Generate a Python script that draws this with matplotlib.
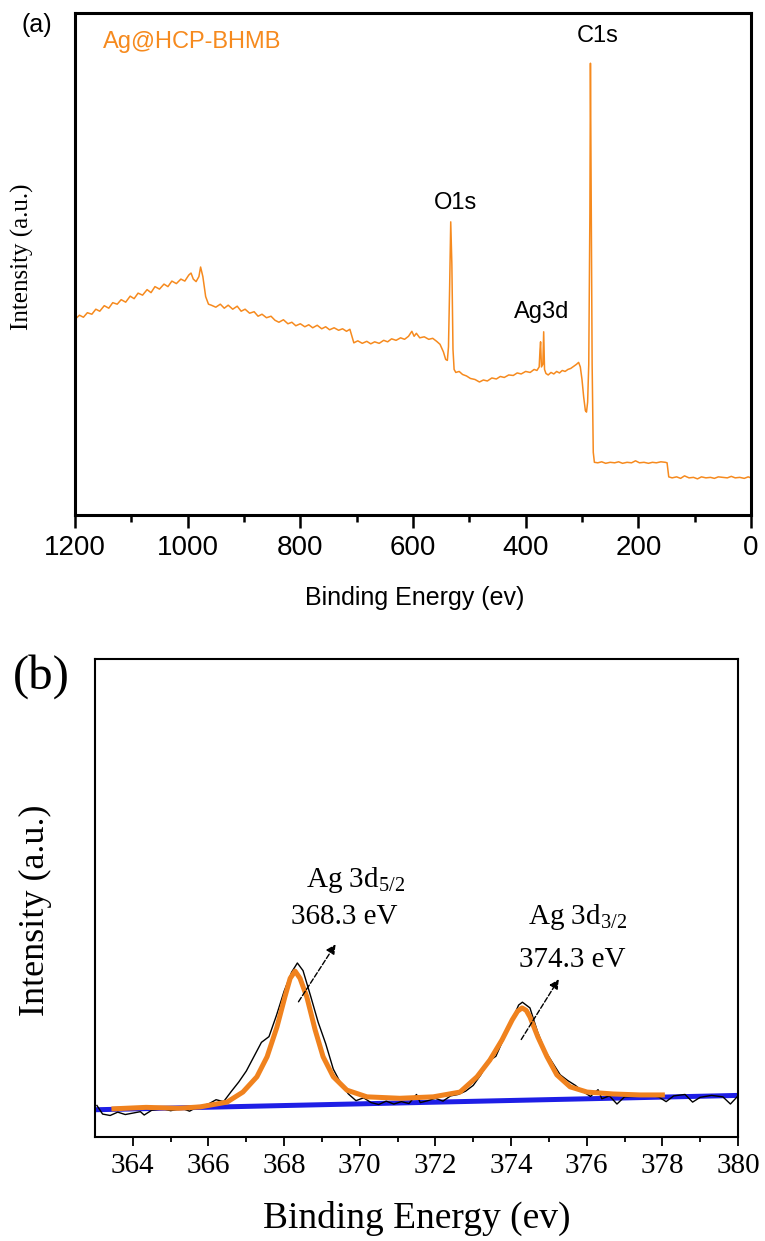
import matplotlib
matplotlib.use('Agg')
import matplotlib.pyplot as plt

# ---- (a) survey spectrum ----
survey_be = [1200, 1192, 1185, 1178, 1170, 1163, 1156, 1148, 1140, 1133, 1125, 1118, 1110, 1102,
             1095, 1088, 1080, 1072, 1065, 1058, 1050, 1042, 1035, 1028, 1020, 1012, 1005, 998,
             994, 990, 985, 980, 977, 973, 968, 963, 958, 950, 942, 935, 928, 920, 912, 905,
             898, 890, 882, 875, 868, 860, 852, 845, 838, 830, 822, 815, 808, 800, 792, 785,
             778, 770, 762, 755, 748, 740, 732, 725, 718, 712, 708, 705, 698, 690, 682, 675,
             668, 660, 652, 645, 638, 630, 622, 615, 608, 602, 598, 594, 588, 580, 572, 565,
             558, 552, 546, 542, 539, 537, 535, 533, 531, 529, 527, 524, 518, 512, 505, 498,
             490, 482, 475, 468, 460, 452, 445, 438, 430, 422, 415, 408, 400, 392, 385, 380,
             376, 374.5, 373.5, 372, 369.5, 368, 366.5, 364, 360, 355, 350, 345, 340, 335, 330,
             325, 320, 315, 310, 306, 303, 300, 297, 294, 292, 290, 288, 286, 285, 284, 282,
             280, 278, 272, 265, 258, 250, 242, 235, 228, 220, 212, 205, 198, 190, 182, 175,
             168, 160, 152, 149, 146, 140, 132, 125, 118, 110, 102, 95, 88, 80, 72, 65, 58,
             50, 42, 35, 28, 20, 12, 5, 0]
survey_int = [39.0, 39.8, 39.4, 40.3, 40.0, 41.0, 40.6, 41.7, 41.2, 42.3, 42.0, 42.9, 42.4, 43.6,
              43.1, 44.2, 43.8, 44.9, 44.3, 45.5, 45.0, 46.0, 45.5, 46.6, 46.1, 47.0, 46.6, 47.8,
              48.2, 47.0, 46.5, 47.5, 49.4, 47.5, 43.5, 42.0, 41.8, 41.4, 42.0, 41.2, 41.8, 41.0, 41.6, 40.6,
              41.0, 40.2, 40.5, 39.6, 40.0, 39.3, 39.6, 38.8, 38.4, 38.9, 38.1, 38.4, 37.7, 38.1, 37.5, 37.9,
              37.3, 37.8, 37.1, 37.5, 36.9, 37.3, 36.8, 37.1, 36.6, 37.0, 35.5, 34.3, 34.7, 34.2, 34.6, 34.1,
              34.5, 34.2, 34.8, 34.5, 35.1, 34.8, 35.3, 35.0, 35.6, 36.6, 35.6, 36.2, 35.3, 35.5, 35.0, 35.2,
              34.6, 34.0, 32.5, 31.0, 30.8, 33.5, 45.0, 58.4, 50.0, 33.0, 29.0, 28.4, 28.6, 28.0, 27.7, 27.2,
              27.0, 26.5, 26.9, 26.7, 27.3, 27.1, 27.6, 27.4, 27.9, 27.8, 28.3, 28.1, 28.6, 28.4, 29.0, 28.8,
              29.5, 33.0, 34.5, 29.5, 30.0, 36.5, 29.0, 28.2, 27.9, 28.4, 28.1, 28.6, 28.3, 28.8, 28.6,
              29.0, 29.2, 29.6, 30.0, 30.4, 29.5, 27.0, 23.5, 20.8, 20.5, 22.5, 30.0, 60.0, 90.0, 70.0, 30.0,
              12.5, 10.5, 10.4, 10.6, 10.3, 10.5, 10.4, 10.6, 10.3, 10.5, 10.4, 10.8, 10.4, 10.5, 10.3, 10.5,
              10.4, 10.6, 10.5, 10.4, 7.6, 7.4, 7.6, 7.3, 7.8, 7.4, 7.5, 7.2, 7.6, 7.4, 7.5, 7.3, 7.6,
              7.5, 7.4, 7.7, 7.4, 7.5, 7.3, 7.6, 7.4]
peak_labels = ['C1s', 'O1s', 'Ag3d']
peak_label_x = [273, 524, 371]
peak_label_y = [95.4, 62.2, 40.4]

# ---- (b) Ag 3d high-resolution ----
raw_be = [363.05, 363.2, 363.4, 363.6, 363.8, 364.0, 364.2, 364.3, 364.5, 364.8, 365.0, 365.3,
          365.5, 365.7, 366.0, 366.2, 366.4, 366.6, 366.8, 367.0, 367.2, 367.4, 367.6, 367.8,
          368.0, 368.2, 368.35, 368.5, 368.7, 368.9, 369.1, 369.3, 369.5, 369.7, 369.9, 370.1,
          370.3, 370.5, 370.7, 370.9, 371.1, 371.3, 371.5, 371.6, 371.8, 372.0, 372.2, 372.4,
          372.6, 372.8, 373.0, 373.2, 373.4, 373.6, 373.8, 374.0, 374.2, 374.3, 374.5, 374.7,
          374.9, 375.1, 375.3, 375.5, 375.7, 375.9, 376.1, 376.3, 376.4, 376.6, 376.8, 377.0,
          377.3, 377.6, 377.9, 378.1, 378.3, 378.6, 378.8, 379.0, 379.3, 379.6, 379.8, 380.0]
raw_int = [6.6, 4.8, 4.5, 5.2, 4.7, 5.0, 5.3, 4.6, 5.6, 5.9, 5.5, 6.0,
           5.4, 6.3, 6.9, 7.8, 7.4, 9.5, 11.5, 13.8, 16.8, 19.8, 21.0, 25.5,
           30.5, 34.5, 36.4, 34.8, 29.5, 24.0, 19.5, 14.2, 11.2, 9.0, 7.6, 8.2,
           7.2, 6.8, 7.5, 6.9, 7.4, 7.0, 8.9, 7.2, 7.6, 8.1, 7.5, 8.6,
           8.9, 9.6, 10.8, 13.0, 15.8, 16.9, 20.5, 24.0, 27.6, 28.2, 27.0, 22.0,
           18.0, 15.5, 13.0, 11.8, 10.8, 9.5, 8.5, 9.9, 8.0, 8.6, 6.9, 8.4,
           8.5, 8.8, 8.4, 7.4, 8.6, 8.9, 7.3, 8.3, 8.7, 8.4, 6.9, 8.6]
fit_be = [363.5, 364.35, 365.2, 365.78, 366.49, 366.91, 367.28, 367.55, 367.81, 368.02, 368.16,
          368.29, 368.42, 368.6, 368.82, 369.03, 369.3, 369.66, 370.19, 371.06, 371.94, 372.65,
          373.1, 373.44, 373.76, 374.03, 374.17, 374.29, 374.4, 374.5, 374.71, 374.95, 375.21,
          375.56, 376.01, 376.7, 377.41, 378.0]
fit_int = [5.9, 6.2, 6.0, 6.3, 7.3, 9.4, 12.6, 16.8, 23.0, 29.3, 33.2,
           34.7, 33.2, 29.3, 22.4, 16.8, 12.6, 9.8, 8.4, 8.1, 8.4, 9.4,
           12.6, 16.1, 20.3, 24.5, 26.3, 27.0, 26.5, 25.1, 20.9, 16.8, 13.0,
           10.5, 9.4, 9.0, 8.8, 8.8]
base_be = [363.0, 380.0]
base_int = [5.7, 8.7]
ann_text = [r'Ag 3d$_{\mathregular{5/2}}$', r'Ag 3d$_{\mathregular{3/2}}$']
ann_energy = ['368.3 eV', '374.3 eV']

orange = '#F68A1E'
sans = ['Liberation Sans', 'DejaVu Sans']
serif = ['Liberation Serif', 'DejaVu Serif']

fig = plt.figure(figsize=(7.65, 12.41), dpi=100)

# ---------- panel (a) ----------
ax1 = fig.add_axes([0.098, 0.5850, 0.8837, 0.4045])
ax1.plot(survey_be, survey_int, color=orange, lw=1.1)
ax1.set_xlim(1200, 0)
ax1.set_ylim(0, 100)
ax1.set_xticks([1200, 1000, 800, 600, 400, 200, 0])
ax1.set_xticks(range(100, 1200, 200), minor=True)
ax1.set_yticks([])
ax1.tick_params(axis='x', which='major', direction='out', length=9.5, width=1.8, pad=5, labelsize=20)
ax1.tick_params(axis='x', which='minor', direction='out', length=5, width=1.8)
for lab in ax1.get_xticklabels():
    lab.set_family(sans)
for s in ax1.spines.values():
    s.set_linewidth(2.2)
for t, x, y in zip(peak_labels, peak_label_x, peak_label_y):
    ax1.text(x, y, t, ha='center', va='center', fontsize=17, family=sans)
ax1.text(0.0414, 0.942, 'Ag@HCP-BHMB', transform=ax1.transAxes, ha='left', va='center',
         fontsize=17, color=orange, family=sans)
fig.text(0.048, 0.9799, '(a)', ha='center', va='center', fontsize=18, family=sans)
fig.text(0.030, 0.793, 'Intensity (a.u.)', rotation=90, ha='center', va='center',
         fontsize=18, family=serif)
fig.text(0.5425, 0.5181, 'Binding Energy (ev)', ha='center', va='center', fontsize=18, family=sans)

# ---------- panel (b) ----------
ax2 = fig.add_axes([0.1242, 0.0838, 0.8405, 0.3852])
ax2.plot(base_be, base_int, color='#1E1EE6', lw=3.6)
ax2.plot(raw_be, raw_int, color='black', lw=1.0)
ax2.plot(fit_be, fit_int, color='#F0821E', lw=3.6, solid_joinstyle='round')
ax2.set_xlim(363, 380)
ax2.set_ylim(0, 100)
ax2.set_xticks(range(364, 381, 2))
ax2.set_xticks(range(365, 380, 2), minor=True)
ax2.set_yticks([])
ax2.tick_params(axis='x', which='major', direction='out', length=6.5, width=1.3, pad=5, labelsize=21)
ax2.tick_params(axis='x', which='minor', direction='out', length=3.5, width=1.3)
for lab in ax2.get_xticklabels():
    lab.set_family(serif)
for s in ax2.spines.values():
    s.set_linewidth(1.5)

ax2.text(369.9, 52.3, ann_text[0], ha='center', va='baseline', fontsize=21, family=serif)
ax2.text(369.6, 44.6, ann_energy[0], ha='center', va='baseline', fontsize=21, family=serif)
ax2.text(375.77, 44.6, ann_text[1], ha='center', va='baseline', fontsize=21, family=serif)
ax2.text(375.62, 35.6, ann_energy[1], ha='center', va='baseline', fontsize=21, family=serif)
ax2.annotate('', xy=(369.4, 40.8), xytext=(368.34, 27.8),
             arrowprops=dict(arrowstyle='-|>', linestyle='--', color='black', lw=1.0, mutation_scale=14))
ax2.annotate('', xy=(375.3, 33.5), xytext=(374.23, 19.9),
             arrowprops=dict(arrowstyle='-|>', linestyle='--', color='black', lw=1.0, mutation_scale=14))

fig.text(0.0536, 0.4545, '(b)', ha='center', va='center', fontsize=35, family=serif)
fig.text(0.047, 0.2667, 'Intensity (a.u.)', rotation=90, ha='center', va='center',
         fontsize=26, family=serif)
fig.text(0.545, 0.0185, 'Binding Energy (ev)', ha='center', va='center', fontsize=27, family=serif)

fig.savefig('out.png', dpi=100)
